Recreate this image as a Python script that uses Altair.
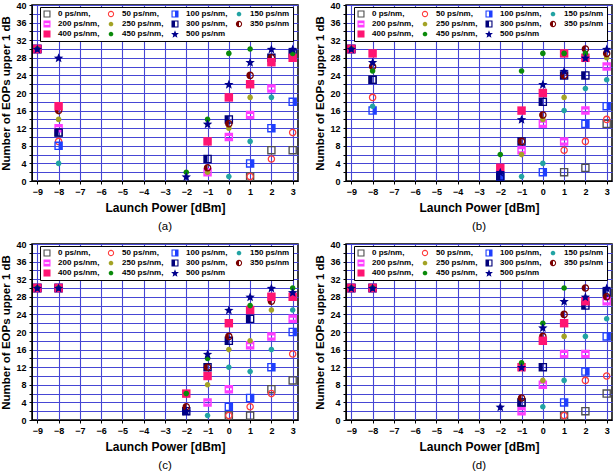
import math
import altair as alt
import pandas as pd

# ---------------- data ----------------
x_power = [-9, -8, -2, -1, 0, 1, 2, 3]
series = ["0 ps/nm", "50 ps/nm", "100 ps/nm", "150 ps/nm", "200 ps/nm", "250 ps/nm",
          "300 ps/nm", "350 ps/nm", "400 ps/nm", "450 ps/nm", "500 ps/nm"]
N = None
a_vals = [
    [30, 11, N, N, N, 1, 7, 7],
    [30, 9, N, N, N, 1, 5, 11],
    [30, 8, N, N, N, 4, 12, 18],
    [30, 4, N, N, 1, 9, 19, N],
    [30, 12, N, 2, 10, 15, 21, N],
    [30, 14, N, 2, 12, 19, N, 28],
    [30, 11, N, 5, 14, N, 28, 29],
    [30, 16, N, 3, 13, 24, 28, 28],
    [30, 17, N, 9, 19, 22, 27, 28],
    [30, N, 2, 14, 29, 30, N, 29],
    [30, 28, 1, 13, 22, 27, 30, 30],
]
b_vals = [
    [30, 23, N, N, N, 2, 3, 13],
    [30, 19, N, N, N, 7, 9, 14],
    [30, 16, 1, N, 2, N, 13, 17],
    [30, 17, N, 1, 4, 16, 21, 23],
    [30, N, N, 7, 13, 9, 16, 26],
    [30, N, N, 6, 14, 19, N, 28],
    [30, 23, 1, 9, 18, 24, 24, N],
    [30, 26, N, 9, 15, 24, 30, 29],
    [30, 29, 3, 16, 20, 29, 28, N],
    [30, 25, 6, 25, 29, 29, 29, N],
    [30, 27, 2, 14, 22, 25, 28, 30],
]
c_vals = [
    [30, 30, N, N, 1, 1, 7, 9],
    [30, 30, N, N, 1, 3, 6, 15],
    [30, 30, N, N, 3, 5, 12, 20],
    [30, 30, N, 1, 12, 11, 16, 25],
    [30, 30, N, 4, 7, 17, 19, 23],
    [30, 30, N, 8, 16, 18, 25, N],
    [30, 30, 2, 12, 18, 23, N, N],
    [30, 30, 3, 12, 19, N, 27, N],
    [30, 30, 6, 10, 22, 25, 28, 28],
    [30, 30, 6, 14, N, 26, N, 30],
    [30, 30, 2, 15, 25, 28, 30, 29],
]
d_vals = [
    [30, 30, N, 4, N, 1, 2, 6],
    [30, 30, N, N, N, 1, 9, 10],
    [30, 30, N, N, N, 4, 11, 19],
    [30, 30, N, N, 3, 9, 19, 23],
    [30, 30, N, 2, 8, 15, 15, 27],
    [30, 30, N, N, 9, 19, N, N],
    [30, 30, N, 4, 12, N, 26, 29],
    [30, 30, N, 5, 19, 24, 30, 28],
    [30, 30, N, 12, 18, 22, 27, N],
    [30, 30, N, 13, 22, 30, N, N],
    [30, 30, 3, 12, 21, 27, 28, 30],
]
captions = ["(a)", "(b)", "(c)", "(d)"]
x_ticks = list(range(-9, 4))
y_ticks = list(range(0, 41, 2))

# ---------------- styles ----------------
FONT = "Liberation Sans"
colors = ["#505050", "#ff3b3b", "#1f3fff", "#22a3a3", "#ff3cff", "#a3a326",
          "#00007a", "#7a0000", "#ff1472", "#0a8a0a", "#00008c"]
SYM = 81      # mark symbol area; path unit -> 4.5 px
LEG_SYM = 56  # legend symbol area


def f(v):
    return f"{v:.3f}"


def sq(o):
    return f"M{f(-o)},{f(-o)}H{f(o)}V{f(o)}H{f(-o)}Z"


def sq_hole(i):
    return f"M{f(-i)},{f(-i)}V{f(i)}H{f(i)}V{f(-i)}Z"


def rect_cw(x0, y0, x1, y1):
    return f"M{f(x0)},{f(y0)}H{f(x1)}V{f(y1)}H{f(x0)}Z"


def ci(r):
    return f"M{f(-r)},0A{f(r)},{f(r)},0,1,0,{f(r)},0A{f(r)},{f(r)},0,1,0,{f(-r)},0Z"


def ci_hole(r):
    return f"M{f(-r)},0A{f(r)},{f(r)},0,1,1,{f(r)},0A{f(r)},{f(r)},0,1,1,{f(-r)},0Z"


O, I = 0.94, 0.64
open_square = sq(O) + sq_hole(I)
right_half_sq = sq(O) + sq_hole(I) + rect_cw(0, -I, I, I)
left_half_sq = sq(O) + sq_hole(I) + rect_cw(-I, -I, 0, I)
stripe_sq = sq(O) + f"M{f(-I)},-0.22V0.22H{f(I)}V-0.22Z"
full_sq = sq(O)
RO, RI = 0.84, 0.56
open_circle = ci(RO) + ci_hole(RI)
left_half_ci = ci(RO) + ci_hole(RI) + f"M0,{f(-RI)}A{f(RI)},{f(RI)},0,0,0,0,{f(RI)}Z"
dot = ci(0.62)
pts = []
for k in range(10):
    r = 1.1 if k % 2 == 0 else 0.48
    ang = -math.pi / 2 + k * math.pi / 5
    pts.append((r * math.cos(ang), r * math.sin(ang) + 0.1))
star = "M" + "L".join(f"{f(px)},{f(py)}" for px, py in pts) + "Z"

shapes = [open_square, open_circle, right_half_sq, dot, stripe_sq, dot,
          left_half_sq, left_half_ci, full_sq, dot, star]

label_expr = ("indexof(['150 ps/nm','350 ps/nm','500 ps/nm'], datum.label) >= 0 "
              "? datum.label : datum.label + ','")


def long_df(vals):
    rows = []
    for si, (name, ys) in enumerate(zip(series, vals)):
        for xv, yv in zip(x_power, ys):
            if yv is not None:
                rows.append({"power": xv, "eops": yv, "series": name, "k": si})
    return pd.DataFrame(rows)


def panel(vals, cap):
    legend = alt.Legend(
        title=None, orient="none", legendX=8, legendY=2, columns=4,
        direction="horizontal", fillColor="white", strokeColor="black",
        padding=3, labelFont=FONT, labelFontSize=8, labelFontWeight="bold",
        labelColor="black", rowPadding=2, columnPadding=7, gridAlign="all",
        symbolStrokeWidth=0, symbolOpacity=1, labelExpr=label_expr,
        labelOffset=7, symbolSize=LEG_SYM, labelBaseline="middle",
    )
    return alt.Chart(long_df(vals)).mark_point(
        filled=True, opacity=1, strokeWidth=0, size=SYM
    ).encode(
        x=alt.X("power:Q",
                scale=alt.Scale(domain=[-9.25, 3.25], nice=False, zero=False),
                axis=alt.Axis(values=x_ticks, title="Launch Power [dBm]",
                              format="d")),
        y=alt.Y("eops:Q", scale=alt.Scale(domain=[0, 40], nice=False),
                axis=alt.Axis(values=y_ticks, title="Number of EOPs upper 1 dB",
                              labelExpr="datum.value % 4 == 0 ? datum.label : ''")),
        color=alt.Color("series:N", scale=alt.Scale(domain=series, range=colors),
                        sort=series, legend=legend),
        shape=alt.Shape("series:N", scale=alt.Scale(domain=series, range=shapes),
                        sort=series, legend=legend),
        order=alt.Order("k:Q"),
    ).properties(
        width=266, height=176,
        title=alt.TitleParams(cap, orient="bottom", fontSize=11.5, fontWeight="normal",
                              font=FONT, color="black", offset=8, anchor="middle"),
    )


charts = [panel(v, c) for v, c in zip([a_vals, b_vals, c_vals, d_vals], captions)]

chart = alt.concat(*charts, columns=2, spacing={"row": 5, "column": 15}).resolve_legend(
    color="independent", shape="independent"
).configure_view(
    stroke="black", strokeWidth=1.5
).configure_axis(
    labelFont=FONT, labelFontSize=9, labelFontWeight="bold", labelColor="black",
    titleFont=FONT, titleFontWeight="bold", titleColor="black",
    gridColor="#4646d4", gridWidth=1.1, gridOpacity=1,
    domainColor="black", tickColor="black", tickSize=3, labelPadding=3,
).configure_axisX(
    titleFontSize=12, titlePadding=6,
).configure_axisY(
    titleFontSize=11.5, titlePadding=4,
).properties(
    padding={"left": 0, "top": 0, "right": 2, "bottom": 0},
    background="white",
)

chart.save("out.html", embed_options={"renderer": "svg", "actions": False})
